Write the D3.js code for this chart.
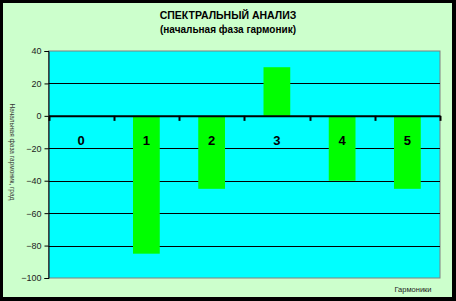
<!DOCTYPE html>
<html>
<head>
<meta charset="utf-8">
<script src="https://cdn.jsdelivr.net/npm/d3@7"></script>
<style>
  body { margin: 0; background: #000; }
  svg { display: block; font-family: Arial, "Liberation Sans", sans-serif; }
</style>
</head>
<body>
<div id="chart"></div>
<script>
const width = 456;
const height = 301;

// data
const harmonics = ["0", "1", "2", "3", "4", "5"];
const phases = [0, -85, -45, 30, -40, -45];
const yTicks = [40, 20, 0, -20, -40, -60, -80, -100];

const margin = { left: 48.5, right: 16, top: 51, bottom: 23 };

const svg = d3.select("#chart").append("svg")
  .attr("width", width)
  .attr("height", height);

// frame
svg.append("rect")
  .attr("x", 0).attr("y", 0)
  .attr("width", width).attr("height", height)
  .attr("fill", "#000");
svg.append("rect")
  .attr("x", 3).attr("y", 3)
  .attr("width", 449).attr("height", 294)
  .attr("fill", "#ccffcc");

const x = d3.scaleBand()
  .domain(harmonics)
  .range([margin.left, width - margin.right])
  .paddingInner(0.59)
  .paddingOuter(0.295);

const xb = d3.scaleBand()
  .domain(harmonics)
  .range([margin.left, width - margin.right]);

const y = d3.scaleLinear()
  .domain([-100, 40])
  .range([height - margin.bottom, margin.top]);

// plot area
svg.append("rect")
  .attr("x", margin.left)
  .attr("y", y(40))
  .attr("width", width - margin.right - margin.left)
  .attr("height", y(-100) - y(40))
  .attr("fill", "#00ffff")
  .attr("stroke", "#808080")
  .attr("stroke-width", 1);

// gridlines
svg.append("g")
  .selectAll("line")
  .data(yTicks.filter(d => d !== 40 && d !== -100 && d !== 0))
  .join("line")
  .attr("x1", margin.left)
  .attr("x2", width - margin.right)
  .attr("y1", d => Math.round(y(d)) + 0.5)
  .attr("y2", d => Math.round(y(d)) + 0.5)
  .attr("stroke", "#000")
  .attr("stroke-width", 1);

// bars
svg.append("g")
  .selectAll("rect")
  .data(phases)
  .join("rect")
  .attr("x", (d, i) => x(harmonics[i]))
  .attr("width", x.bandwidth())
  .attr("y", d => y(Math.max(0, d)))
  .attr("height", d => Math.abs(y(d) - y(0)))
  .attr("fill", "#00ff00");

// y axis
const yAxis = svg.append("g")
  .attr("transform", `translate(${margin.left},0)`)
  .call(d3.axisLeft(y).tickValues(yTicks).tickSize(4).tickPadding(3));
yAxis.select(".domain").attr("stroke", "#000");
yAxis.selectAll(".tick line").attr("stroke", "#000");
yAxis.selectAll("text")
  .attr("fill", "#222")
  .style("font-size", "9px");

// zero axis with downward ticks
const xAxis = svg.append("g")
  .attr("transform", `translate(0,${y(0)})`)
  .call(d3.axisBottom(xb).tickSize(0).tickFormat(""));
xAxis.select(".domain").attr("stroke", "#000").attr("stroke-width", 2);
svg.append("g")
  .selectAll("line")
  .data(harmonics.concat(["end"]))
  .join("line")
  .attr("x1", (d, i) => Math.round(margin.left + i * xb.bandwidth()) + 0.5)
  .attr("x2", (d, i) => Math.round(margin.left + i * xb.bandwidth()) + 0.5)
  .attr("y1", y(0))
  .attr("y2", y(0) + 5)
  .attr("stroke", "#000")
  .attr("stroke-width", 2);

// category labels inside plot
svg.append("g")
  .selectAll("text")
  .data(harmonics)
  .join("text")
  .attr("x", d => xb(d) + xb.bandwidth() / 2)
  .attr("y", y(0) + 29)
  .attr("text-anchor", "middle")
  .attr("font-weight", "bold")
  .attr("font-size", "13px")
  .attr("fill", "#000")
  .text(d => d);

// titles
svg.append("text")
  .attr("x", 228).attr("y", 19)
  .attr("text-anchor", "middle")
  .attr("font-weight", "bold")
  .attr("font-size", "10.5px")
  .text("СПЕКТРАЛЬНЫЙ АНАЛИЗ");
svg.append("text")
  .attr("x", 228).attr("y", 33)
  .attr("text-anchor", "middle")
  .attr("font-weight", "bold")
  .attr("font-size", "10px")
  .text("(начальная фаза гармоник)");

svg.append("text")
  .attr("x", 413).attr("y", 292)
  .attr("text-anchor", "middle")
  .attr("font-size", "7.5px")
  .attr("fill", "#222")
  .text("Гармоники");

svg.append("text")
  .attr("transform", `translate(10,152) rotate(90)`)
  .attr("text-anchor", "middle")
  .attr("font-size", "6.5px")
  .attr("fill", "#333")
  .text("Начальная фаза гармоник, град");
</script>
</body>
</html>
